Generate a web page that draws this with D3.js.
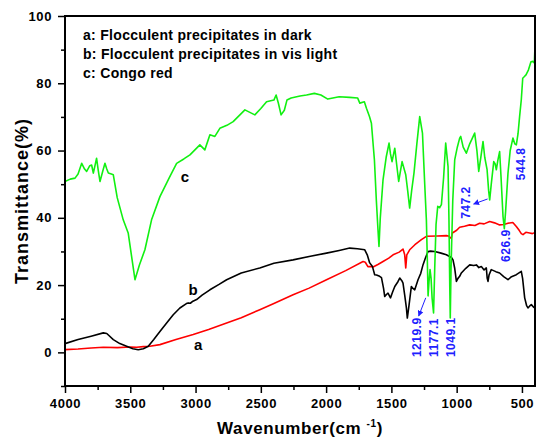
<!DOCTYPE html>
<html>
<head>
<meta charset="utf-8">
<script src="https://cdn.jsdelivr.net/npm/d3@7"></script>
<style>
  body { margin: 0; background: #fff; }
  svg text { font-family: "Liberation Sans", Arial, sans-serif; font-weight: bold; }
</style>
</head>
<body>
<svg id="chart"></svg>
<script>
// spectrum a: flocculent precipitates in dark (red)
var wnA = [4000, 3900, 3800, 3707, 3600, 3500, 3451, 3400, 3350, 3273, 3150, 3018, 2900, 2762, 2650, 2508, 2400, 2253, 2130, 1997, 1850, 1717, 1700, 1680, 1653, 1640, 1600, 1564, 1520, 1487, 1440, 1411, 1398, 1390, 1382, 1360, 1320, 1270, 1232, 1150, 1079, 1060, 1049, 1040, 1033, 1000, 977, 940, 900, 860, 824, 790, 747, 710, 671, 640, 607, 570, 543, 520, 505, 492, 470, 441, 420, 400]
var tA = [0.8, 1.0, 1.3, 1.5, 1.4, 1.6, 1.5, 1.7, 1.8, 2.3, 3.8, 5.3, 6.8, 8.7, 10.3, 12.7, 14.5, 17.1, 19.1, 21.6, 24.3, 27.0, 26.8, 25.5, 25.5, 25.4, 26.2, 27.0, 28, 29.0, 29.8, 30.7, 29, 25.1, 29, 30.5, 32, 33.5, 34.5, 34.6, 34.7, 34.6, 34.0, 34.2, 35.5, 36.3, 37.2, 37.5, 37.9, 37.7, 38.4, 38.2, 38.9, 38.5, 37.9, 38.0, 38.4, 38.6, 37.4, 36.2, 35.3, 35.0, 35.7, 35.5, 35.3, 35.6]

// spectrum b: flocculent precipitates in vis light (black)
var wnB = [4000, 3900, 3800, 3707, 3680, 3630, 3580, 3528, 3480, 3439, 3400, 3362, 3320, 3273, 3220, 3171, 3120, 3070, 3056, 3040, 3020, 2992, 2950, 2890, 2820, 2762, 2650, 2508, 2400, 2253, 2130, 1997, 1900, 1819, 1760, 1704, 1685, 1666, 1645, 1628, 1614, 1590, 1576, 1560, 1551, 1538, 1526, 1507, 1490, 1474, 1450, 1436, 1420, 1411, 1398, 1385, 1378, 1365, 1347, 1335, 1321, 1296, 1275, 1258, 1240, 1219, 1200, 1168, 1120, 1079, 1040, 1028, 1015, 1002, 990, 977, 964, 930, 900, 870, 849, 830, 811, 790, 773, 766, 760, 752, 735, 700, 671, 640, 607, 580, 543, 505, 495, 479, 465, 454, 440, 428, 412, 400]
var tB = [2.6, 3.8, 4.8, 5.8, 5.6, 3.8, 2.6, 1.8, 1.1, 0.8, 1.1, 1.8, 3.8, 6.2, 8.8, 11.2, 13.2, 14.5, 14.7, 14.6, 15.2, 15.7, 17, 18.6, 20.2, 21.6, 23.6, 25.1, 26.5, 27.5, 28.5, 29.5, 30.3, 31.0, 30.8, 30.5, 29, 26.6, 25.5, 23.1, 23.0, 22.6, 22.2, 19, 16.6, 17.2, 17.6, 16.2, 18, 19.6, 21, 22.1, 21.3, 20.6, 17, 13.2, 10.2, 14, 19.6, 19, 18.6, 21.6, 23.5, 26.0, 28, 30.0, 30.1, 30.0, 29.5, 29.0, 28.2, 27.5, 25, 21.1, 22, 22.6, 23.6, 25, 26.0, 25.8, 26.0, 25.2, 25.5, 24.5, 25.1, 22, 21.1, 23, 24.6, 24, 23.6, 22.5, 21.6, 22.5, 23.1, 24.1, 22, 16.2, 14, 13.2, 13.8, 14.2, 13.5, 13.2]

// spectrum c: congo red (green)
var wnC = [4000, 3960, 3923, 3900, 3872, 3850, 3834, 3810, 3796, 3783, 3758, 3745, 3732, 3710, 3694, 3680, 3668, 3645, 3630, 3600, 3554, 3516, 3464, 3430, 3388, 3337, 3273, 3200, 3145, 3090, 3043, 2967, 2929, 2890, 2852, 2814, 2760, 2712, 2622, 2546, 2500, 2456, 2400, 2383, 2365, 2345, 2320, 2300, 2268, 2200, 2150, 2090, 2040, 1987, 1900, 1820, 1758, 1742, 1707, 1691, 1668, 1653, 1630, 1615, 1602, 1595, 1585, 1564, 1540, 1518, 1507, 1495, 1474, 1460, 1444, 1430, 1418, 1390, 1375, 1360, 1345, 1327, 1305, 1283, 1262, 1245, 1232, 1225, 1219, 1212, 1204, 1196, 1188, 1177, 1168, 1158, 1145, 1130, 1117, 1100, 1084, 1066, 1059, 1053, 1049, 1043, 1030, 1015, 995, 977, 969, 950, 926, 900, 862, 845, 831, 815, 798, 785, 767, 755, 747, 735, 716, 705, 696, 685, 671, 660, 645, 635, 625, 607, 590, 569, 555, 543, 530, 518, 505, 494, 481, 469, 450, 431, 415, 405, 400]
var tC = [50.8, 51.5, 51.8, 53, 56.2, 54.5, 53.8, 55.5, 55.7, 53.3, 57.7, 54, 50.8, 54, 56.2, 54.5, 53.3, 53, 52.8, 46, 39.4, 35.5, 21.6, 26, 30.5, 39.4, 46.3, 52, 56.2, 57.5, 58.7, 61.7, 60.2, 64.7, 64.2, 66.6, 67.5, 68.6, 72.1, 70.6, 72.5, 74.5, 75, 76.5, 74, 70.6, 72, 75, 75.6, 76.2, 76.5, 77, 76.5, 75.3, 76, 75.8, 75.6, 74.1, 74.5, 72.6, 70.1, 68.1, 57.2, 45, 36, 31.5, 40, 51.3, 58, 62.2, 59, 56.7, 60.7, 56, 50.8, 54, 56.7, 52.8, 48, 42.9, 48, 53.3, 62, 70.1, 65.2, 50.3, 39.4, 28, 16.8, 21, 24.6, 22, 16, 11.7, 25, 38, 43.4, 43, 43.9, 52, 62.2, 55.2, 39.4, 20, 10.2, 25, 45, 57.2, 61, 63.7, 64.2, 61, 59.2, 62, 65.2, 60, 53.8, 58, 62.7, 58, 54.3, 48, 45.3, 50, 56.7, 56, 54.3, 57, 59.7, 52, 40.4, 36.8, 42, 53.3, 60, 63.7, 62, 61.7, 65, 70.1, 75.1, 81.5, 82, 82.5, 84, 86.4, 86.5, 86, 91]

// axis ticks
var xTicks = [4000, 3500, 3000, 2500, 2000, 1500, 1000, 500]
var xMinor = [3750, 3250, 2750, 2250, 1750, 1250, 750]
var yTicks = [0, 20, 40, 60, 80, 100]
var yMinor = [-10, 10, 30, 50, 70, 90]

// legend lines
var legendLines = ["a: Flocculent precipitates in dark", "b: Flocculent precipitates in vis light", "c: Congo red"]

// curve letters [wavenumber, value]
var curveTags = [["a", 2980, 0.7], ["b", 3018, 17.1], ["c", 3082, 50.7]]

// peak labels (rotated), anchored at the bottom of the text
var peakNames = ["1219.9", "1177.1", "1049.1", "626.9", "747.2", "544.8"]
var peakWn = [1275, 1145, 1015, 594, 897, 476]
var peakT = [-1.4, -1.4, -1.4, 26.9, 39.7, 51.2]

// arrows [fromWn, fromT, toWn, toT]
var arrows = [[1237, 16.2, 1291, 10.8], [763, 45.6, 870, 44.1]]

var width = 536,
  height = 437

var svg = d3.select("#chart")
  .attr("width", width)
  .attr("height", height)

var x = d3.scaleLinear().domain([4000, 400]).range([65, 535])
var y = d3.scaleLinear().domain([-10, 100]).range([386, 16])

var blue = "#2020ff"

svg.append("defs").append("marker")
  .attr("id", "head")
  .attr("viewBox", "0 0 10 10")
  .attr("refX", 9)
  .attr("refY", 5)
  .attr("markerWidth", 6)
  .attr("markerHeight", 6)
  .attr("orient", "auto")
  .append("path")
  .attr("d", "M0,0 L10,5 L0,10 z")
  .style("fill", blue)

/*
 * Curves
 */

var line = d3.line()
  .x(function (d) { return x(d[0]) })
  .y(function (d) { return y(d[1]) })

function pairs(a, b) {
  return a.map(function (v, i) { return [v, b[i]] })
}

var curves = [
  { data: pairs(wnA, tA), color: "#ff0000" },
  { data: pairs(wnB, tB), color: "#000000" },
  { data: pairs(wnC, tC), color: "#11f011" }
]

svg.append("g")
  .selectAll("path")
  .data(curves)
  .enter()
  .append("path")
  .attr("d", function (d) { return line(d.data) })
  .style("fill", "none")
  .style("stroke", function (d) { return d.color })
  .style("stroke-width", 1.6)
  .style("stroke-linejoin", "round")

/*
 * Axes
 */

var xAxis = svg.append("g")
  .attr("transform", "translate(0," + y(-10) + ")")
  .call(d3.axisBottom(x).tickValues(xTicks).tickSize(7).tickPadding(6).tickFormat(d3.format("d")))
var xAxisMinor = svg.append("g")
  .attr("transform", "translate(0," + y(-10) + ")")
  .call(d3.axisBottom(x).tickValues(xMinor).tickSize(4).tickFormat(""))

var yAxis = svg.append("g")
  .attr("transform", "translate(" + x(4000) + ",0)")
  .call(d3.axisLeft(y).tickValues(yTicks).tickSize(7).tickPadding(6))
var yAxisMinor = svg.append("g")
  .attr("transform", "translate(" + x(4000) + ",0)")
  .call(d3.axisLeft(y).tickValues(yMinor).tickSize(4).tickFormat(""))

svg.selectAll(".domain").remove()
svg.selectAll(".tick line").style("stroke", "#000").style("stroke-width", 1.5)
svg.selectAll(".tick text")
  .style("font-size", "13px")
  .style("letter-spacing", "0.6px")
  .style("fill", "#000")

// frame
svg.append("rect")
  .attr("x", x(4000))
  .attr("y", y(100))
  .attr("width", x(400) - x(4000))
  .attr("height", y(-10) - y(100))
  .style("fill", "none")
  .style("stroke", "#000")
  .style("stroke-width", 2)

// axis titles
svg.append("text")
  .attr("transform", "translate(28," + ((y(100) + y(-10)) / 2) + ") rotate(-90)")
  .attr("text-anchor", "middle")
  .style("font-size", "18px")
  .style("letter-spacing", "1px")
  .text("Transmittance(%)")

var xt = svg.append("text")
  .attr("x", (x(4000) + x(400)) / 2)
  .attr("y", 434)
  .attr("text-anchor", "middle")
  .style("font-size", "17px")
  .style("letter-spacing", "0.6px")
xt.append("tspan").text("Wavenumber(cm ")
xt.append("tspan").attr("dy", -7).style("font-size", "10px").text("-1")
xt.append("tspan").attr("dy", 7).text(")")

/*
 * Legend and labels
 */

svg.append("g")
  .selectAll("text")
  .data(legendLines)
  .enter()
  .append("text")
  .attr("x", 83)
  .attr("y", function (d, i) { return 40 + i * 19 })
  .style("font-size", "14px")
  .style("letter-spacing", "0.3px")
  .text(function (d) { return d })

svg.append("g")
  .selectAll("text")
  .data(curveTags)
  .enter()
  .append("text")
  .attr("x", function (d) { return x(d[1]) })
  .attr("y", function (d) { return y(d[2]) })
  .attr("text-anchor", "middle")
  .style("font-size", "15px")
  .text(function (d) { return d[0] })

svg.append("g")
  .selectAll("text")
  .data(peakNames)
  .enter()
  .append("text")
  .attr("transform", function (d, i) {
    return "translate(" + x(peakWn[i]) + "," + y(peakT[i]) + ") rotate(-90)"
  })
  .style("font-size", "12px")
  .style("letter-spacing", "0.5px")
  .style("fill", blue)
  .text(function (d) { return d })

svg.append("g")
  .selectAll("line")
  .data(arrows)
  .enter()
  .append("line")
  .attr("x1", function (d) { return x(d[0]) })
  .attr("y1", function (d) { return y(d[1]) })
  .attr("x2", function (d) { return x(d[2]) })
  .attr("y2", function (d) { return y(d[3]) })
  .style("stroke", blue)
  .style("stroke-width", 1)
  .attr("marker-end", "url(#head)")
</script>
</body>
</html>
